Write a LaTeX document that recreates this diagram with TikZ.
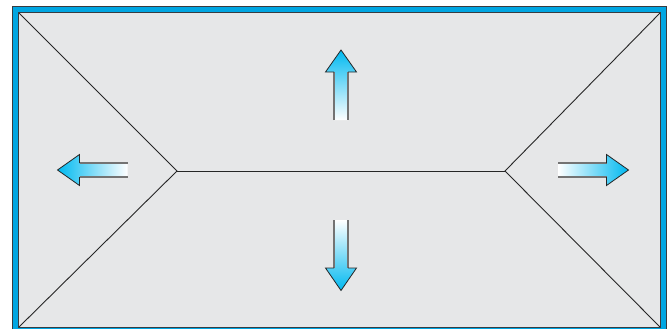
\documentclass[tikz,border=0pt]{standalone}
\definecolor{frameblue}{RGB}{0,166,226}
\definecolor{arrowcyan}{RGB}{0,185,240}
\definecolor{panelgray}{RGB}{230,231,232}
\definecolor{edgedark}{RGB}{55,60,65}
\tikzset{
  ridge/.style={line width=0.9pt, draw=black!85},
  frameline/.style={line width=1.3pt, draw=edgedark},
  shaftedge/.style={line width=1.6pt, draw=black!55},
  headedge/.style={line width=0.8pt, draw=black!85, line join=miter},
}
\begin{document}
\begin{tikzpicture}[x=1pt,y=-1pt]
\useasboundingbox (0,0) rectangle (668,329);
\fill[white] (0,0) rectangle (668,329);
% blue frame (top, left, right)
\fill[frameblue] (12.5,6.5) rectangle (666.5,329);
\draw[frameline] (12.5,329) -- (12.5,6.5) -- (666.5,6.5) -- (666.5,329);
% panel
\fill[panelgray] (18.5,12.5) rectangle (660.5,327.5);
\draw[frameline] (18.5,12.5) rectangle (660.5,327.5);
% ridge lines
\coordinate (TL) at (19,13);
\coordinate (TR) at (660,13);
\coordinate (BL) at (19,327);
\coordinate (BR) at (660,327);
\coordinate (J1) at (177,171);
\coordinate (J2) at (505,171);
\draw[ridge] (TL) -- (J1) -- (BL);
\draw[ridge] (TR) -- (J2) -- (BR);
\draw[ridge] (J1) -- (J2);
% up arrow
\shade[bottom color=white, top color=arrowcyan]
  (334,120) -- (334,72) -- (325.5,72) -- (341,50) -- (356.5,72) -- (348,72) -- (348,120) -- cycle;
\draw[shaftedge] (334,120) -- (334,72) (348,72) -- (348,120);
\draw[headedge] (334,72) -- (325.5,72) -- (341,50) -- (356.5,72) -- (348,72);
% down arrow
\shade[top color=white, bottom color=arrowcyan]
  (334,220) -- (334,268) -- (325.5,268) -- (341,290.5) -- (356.5,268) -- (348,268) -- (348,220) -- cycle;
\draw[shaftedge] (334,220) -- (334,268) (348,268) -- (348,220);
\draw[headedge] (334,268) -- (325.5,268) -- (341,290.5) -- (356.5,268) -- (348,268);
% left arrow
\shade[right color=white, left color=arrowcyan]
  (127.5,163) -- (79.5,163) -- (79.5,154.5) -- (57.5,170) -- (79.5,185.5) -- (79.5,177) -- (127.5,177) -- cycle;
\draw[shaftedge] (127.5,163) -- (79.5,163) (79.5,177) -- (127.5,177);
\draw[headedge] (79.5,163) -- (79.5,154.5) -- (57.5,170) -- (79.5,185.5) -- (79.5,177);
% right arrow
\shade[left color=white, right color=arrowcyan]
  (558,163) -- (606.5,163) -- (606.5,154.5) -- (628.5,170) -- (606.5,185.5) -- (606.5,177) -- (558,177) -- cycle;
\draw[shaftedge] (558,163) -- (606.5,163) (606.5,177) -- (558,177);
\draw[headedge] (606.5,163) -- (606.5,154.5) -- (628.5,170) -- (606.5,185.5) -- (606.5,177);
\end{tikzpicture}
\end{document}
